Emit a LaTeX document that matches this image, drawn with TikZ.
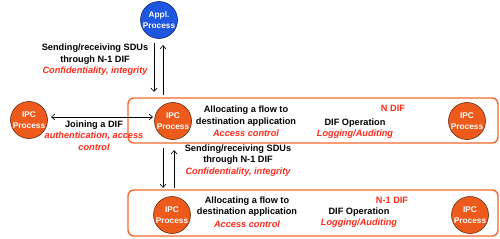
\documentclass[tikz,border=0pt]{standalone}
\usepackage{fontspec}
\setmainfont{Liberation Sans}
\usetikzlibrary{arrows.meta}
\definecolor{ipcfill}{HTML}{EE5A1C}
\definecolor{ipcedge}{HTML}{6A2A10}
\definecolor{applfill}{HTML}{1E56E0}
\definecolor{appledge}{HTML}{102A70}
\definecolor{boxedge}{HTML}{F26A2E}
\definecolor{redtxt}{HTML}{FF2A1A}
\tikzset{
  ipc/.style={circle, draw=ipcedge, line width=0.6pt, fill=ipcfill, minimum size=37pt, inner sep=0pt, align=center, text=white, font=\fontsize{8.3}{10.5}\selectfont\bfseries},
  appl/.style={ipc, fill=applfill, draw=appledge},
  difbox/.style={draw=boxedge, line width=1.4pt, rounded corners=6pt},
  lbl/.style={align=center, font=\fontsize{9.2}{11.3}\selectfont\bfseries, inner sep=0pt},
  rlbl/.style={text=redtxt, font=\fontsize{9.2}{11.3}\selectfont\bfseries\itshape, inner sep=0pt, align=center},
  arr/.style={line width=0.6pt, -{Straight Barb[length=3.5pt,width=6pt]}},
  darr/.style={line width=0.6pt, {Straight Barb[length=3.5pt,width=6pt]}-{Straight Barb[length=3.5pt,width=6pt]}}
}
\begin{document}
\begin{tikzpicture}[x=1pt,y=-1pt]
\useasboundingbox (0,0) rectangle (500,238);
% boxes
\draw[difbox] (128,98) rectangle (498,143);
\draw[difbox] (128,190) rectangle (498,236);
% circles
\node[appl] (appl) at (159,20) {Appl.\\Process};
\node[ipc] (ipcL) at (29,120) {IPC\\Process};
\node[ipc] (ipcN) at (173,121) {IPC\\Process};
\node[ipc] (ipcNR) at (467,121) {IPC\\Process};
\node[ipc] (ipcM) at (172,215) {IPC\\Process};
\node[ipc] (ipcMR) at (470,215) {IPC\\Process};
% arrows appl <-> ipcN
\coordinate (a1s) at (154,43);
\coordinate (a1e) at (154,92);
\coordinate (a2s) at (163,95);
\coordinate (a2e) at (163,45);
\draw[arr] (a1s) -- (a1e);
\draw[arr] (a2s) -- (a2e);
% arrows ipcN <-> ipcM
\coordinate (b1s) at (163,148);
\coordinate (b1e) at (163,188);
\coordinate (b2s) at (174,188);
\coordinate (b2e) at (174,150);
\draw[arr] (b1s) -- (b1e);
\draw[arr] (b2s) -- (b2e);
% joining
\coordinate (jl) at (51,117);
\coordinate (jr) at (153,117);
\draw[darr] (jl) -- (jr);
% texts
\node[lbl] (t1) at (95,48) {Sending/receiving SDUs};
\node[lbl] (t2) at (95,60) {through N-1 DIF};
\node[rlbl] (t3) at (95,71) {Confidentiality, integrity};

\node[lbl] (j1) at (94,125) {Joining a DIF};
\node[rlbl] (j2) at (94,136) {authentication, access};
\node[rlbl] (j3) at (94,147) {control};

\node[lbl] (n1) at (246,110) {Allocating a flow to};
\node[lbl] (n2) at (246,122) {destination application};
\node[rlbl] (n3) at (246,133) {Access control};
\node[rlbl, font=\fontsize{9.2}{11.3}\selectfont\bfseries] (n4) at (393,108) {N DIF};
\node[lbl] (n5) at (355,123) {DIF Operation};
\node[rlbl] (n6) at (355,134) {Logging/Auditing};

\node[lbl] (s1) at (238,149) {Sending/receiving SDUs};
\node[lbl] (s2) at (238,160) {through N-1 DIF};
\node[rlbl] (s3) at (238,172) {Confidentiality, integrity};

\node[lbl] (m1) at (247,201) {Allocating a flow to};
\node[lbl] (m2) at (247,212) {destination application};
\node[rlbl] (m3) at (247,224) {Access control};
\node[rlbl, font=\fontsize{9.2}{11.3}\selectfont\bfseries] (m4) at (392,200) {N-1 DIF};
\node[lbl] (m5) at (359,212) {DIF Operation};
\node[rlbl] (m6) at (359,223) {Logging/Auditing};
\end{tikzpicture}
\end{document}
